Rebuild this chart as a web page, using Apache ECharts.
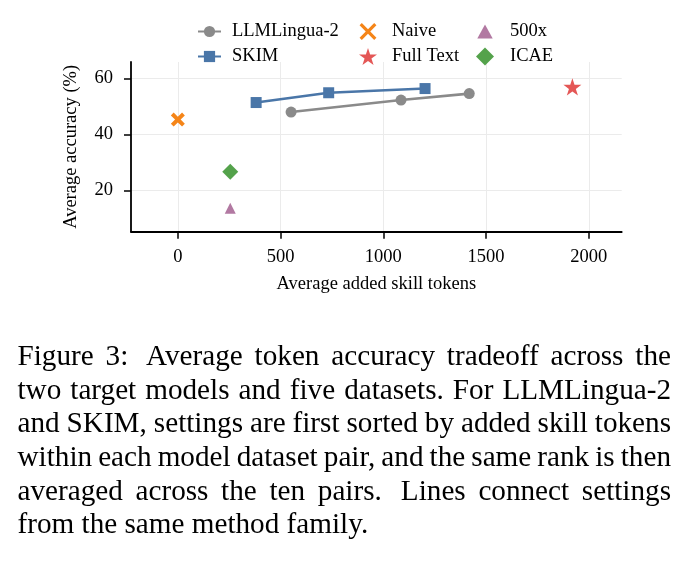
<!DOCTYPE html>
<html><head><meta charset="utf-8">
<script src="https://cdn.jsdelivr.net/npm/echarts@6/dist/echarts.min.js"></script>
<style>html,body{margin:0;padding:0;background:#fff}#c{width:687px;height:568px}</style>
</head><body><div id="c"></div><script>
// ---- data ----
const xTicks = [0, 500, 1000, 1500, 2000];
const yTicks = [20, 40, 60];
const llmTokens = [551, 1086, 1418];
const llmAcc = [48.0, 52.3, 54.6];
const skimTokens = [381, 734, 1203];
const skimAcc = [51.4, 54.9, 56.4];
const naiveTokens = [0];
const naiveAcc = [45.3];
const fullTokens = [1920];
const fullAcc = [57.0];
const x500Tokens = [255];
const x500Acc = [13.6];
const icaeTokens = [255];
const icaeAcc = [26.6];
const captionLines = [
  'Figure 3:  Average token accuracy tradeoff across the',
  'two target models and five datasets. For LLMLingua-2',
  'and SKIM, settings are first sorted by added skill tokens',
  'within each model dataset pair, and the same rank is then',
  'averaged across the ten pairs.  Lines connect settings',
  'from the same method family.'
];

// ---- helpers ----
const FONT = '"Liberation Serif", "Times New Roman", serif';
const pairs = (xs, ys) => xs.map((x, i) => [x, ys[i]]);
const STAR = 'path://M50,0 L61.23,34.55 L97.55,34.55 L68.17,55.9 L79.39,90.45 L50,69.1 L20.61,90.45 L31.83,55.9 L2.45,34.55 L38.77,34.55 Z';
const XMARK = 'path://M0,2 L2,0 L5,3 L8,0 L10,2 L7,5 L10,8 L8,10 L5,7 L2,10 L0,8 L3,5 Z';
const TRI_LEG = 'path://M0,0 M14,14 M7,1.5 L13,12.5 L1,12.5 Z';
const X_LEG = 'path://M0,0 M16,16 M0.5,2.5 L2.5,0.5 L8,6 L13.5,0.5 L15.5,2.5 L10,8 L15.5,13.5 L13.5,15.5 L8,10 L2.5,15.5 L0.5,13.5 L6,8 Z';

const C = {
  llm: '#8a8a8a', skim: '#4a76a8', naive: '#f58518', full: '#e45756', x500: '#b279a2', icae: '#54a24b'
};

// caption, justified
const capSize = 29.2;
const ctx = document.createElement('canvas').getContext('2d');
ctx.font = capSize + 'px ' + FONT;
const capLeft = 17.5, capRight = 671, capTop = 357.5, capStep = 33.6;
const graphics = [];
captionLines.forEach((line, i) => {
  const parts = line.split(/( +)/);
  const words = [], gaps = [];
  parts.forEach((p, k) => { if (k % 2 === 0) words.push(p); else gaps.push(p.length > 1 ? 1.5 : 1); });
  const widths = words.map(w => ctx.measureText(w).width);
  const total = widths.reduce((a, b) => a + b, 0);
  const gw = gaps.reduce((a, b) => a + b, 0);
  const last = i === captionLines.length - 1;
  const unit = last ? ctx.measureText(' ').width : (capRight - capLeft - total) / gw;
  let x = capLeft;
  const y = capTop + i * capStep;
  words.forEach((w, j) => {
    graphics.push({ type: 'text', x: x, y: y, style: { text: w, fontSize: capSize, fontFamily: FONT, fill: '#000', verticalAlign: 'middle', align: 'left' } });
    x += widths[j] + (j < gaps.length ? gaps[j] * unit : 0);
  });
});

const axisText = { fontFamily: FONT, fontSize: 18.5, color: '#000' };
const legText = (pad) => ({ fontFamily: FONT, fontSize: 18.5, color: '#000', padding: [0, 0, 0, pad] });

const chart = echarts.init(document.getElementById('c'), null, { renderer: 'canvas' });
chart.setOption({
  animation: false,
  backgroundColor: '#fff',
  grid: { left: 131, top: 62, width: 490.7, height: 169.7, containLabel: false },
  legend: [
    { orient: 'vertical', top: 22, left: 197, padding: 0, itemWidth: 23, itemHeight: 14, itemGap: 6,
      data: ['LLMLingua-2', 'SKIM'], textStyle: legText(6) },
    { orient: 'vertical', top: 22, left: 359, padding: 0, itemWidth: 18, itemHeight: 18, itemGap: 6,
      data: [{ name: 'Naive', icon: X_LEG }, 'Full Text'], textStyle: legText(10), symbolKeepAspect: true },
    { orient: 'vertical', top: 22, left: 476, padding: 0, itemWidth: 18, itemHeight: 18, itemGap: 6,
      data: [{ name: '500x', icon: TRI_LEG }, 'ICAE'], textStyle: legText(11), symbolKeepAspect: true }
  ],
  xAxis: {
    type: 'value', min: -228, max: 2160,
    name: 'Average added skill tokens', nameLocation: 'middle', nameGap: 43,
    nameTextStyle: axisText,
    axisLine: { onZero: false, lineStyle: { color: '#000', width: 1.8 } },
    axisTick: { customValues: xTicks, length: 7, lineStyle: { color: '#000', width: 1.5 } },
    axisLabel: Object.assign({ customValues: xTicks, margin: 16, formatter: v => String(v) }, axisText),
    splitLine: { show: true, lineStyle: { color: '#ebebeb', width: 1 } }
  },
  yAxis: {
    type: 'value', min: 5.2, max: 65.9,
    name: 'Average accuracy (%)', nameLocation: 'middle', nameGap: 50,
    nameTextStyle: axisText,
    axisLine: { show: true, onZero: false, lineStyle: { color: '#000', width: 1.8 } },
    axisTick: { show: true, customValues: yTicks, length: 7, lineStyle: { color: '#000', width: 1.5 } },
    axisLabel: Object.assign({ customValues: yTicks, margin: 18, formatter: v => String(v) }, axisText),
    splitLine: { show: true, lineStyle: { color: '#ebebeb', width: 1 } }
  },
  series: [
    { name: 'LLMLingua-2', type: 'line', data: pairs(llmTokens, llmAcc), symbol: 'circle', symbolSize: 11,
      lineStyle: { color: C.llm, width: 2.6 }, itemStyle: { color: C.llm }, z: 3 },
    { name: 'SKIM', type: 'line', data: pairs(skimTokens, skimAcc), symbol: 'rect', symbolSize: 11,
      lineStyle: { color: C.skim, width: 2.6 }, itemStyle: { color: C.skim }, z: 3 },
    { name: 'Naive', type: 'scatter', data: pairs(naiveTokens, naiveAcc), symbol: XMARK, symbolSize: 14, itemStyle: { color: C.naive, opacity: 1 }, z: 4 },
    { name: 'Full Text', type: 'scatter', data: pairs(fullTokens, fullAcc), symbol: STAR, symbolSize: 18, symbolKeepAspect: true, itemStyle: { color: C.full, opacity: 1 }, z: 4 },
    { name: '500x', type: 'scatter', data: pairs(x500Tokens, x500Acc), symbol: 'triangle', symbolSize: 11, itemStyle: { color: C.x500, opacity: 1 }, z: 4 },
    { name: 'ICAE', type: 'scatter', data: pairs(icaeTokens, icaeAcc), symbol: 'diamond', symbolSize: 16, itemStyle: { color: C.icae, opacity: 1 }, z: 4 }
  ],
  graphic: { elements: graphics }
});
</script></body></html>
